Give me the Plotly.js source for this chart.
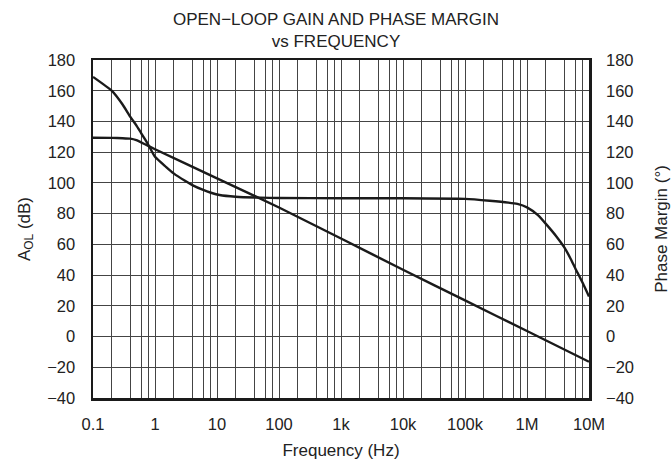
<!DOCTYPE html>
<html>
<head>
<meta charset="utf-8">
<script src="https://cdn.plot.ly/plotly-3.0.1.min.js"></script>
<style>html,body{margin:0;padding:0;background:#fff;}#chart{width:672px;height:467px;}</style>
</head>
<body>
<div id="chart"></div>
<script>
// Open-loop gain (dB) vs frequency (Hz)
const gainFreq = [0.1, 0.2, 0.3, 0.4, 0.5, 0.7, 1, 10, 100, 1e3, 1e4, 1e5, 1e6, 1e7];
const gainDb   = [129.4, 129.3, 129.1, 128.8, 127.8, 125, 121.9, 103, 84, 63.8, 43.5, 23.5, 3.6, -16.4];

// Phase margin (deg) vs frequency (Hz)
const phaseFreq = [0.1, 0.2, 0.3, 0.4, 0.5, 0.6, 0.7, 0.8, 1, 1.5, 2, 3, 4, 6, 8, 11, 20, 50, 100, 1e3, 1e4, 1e5, 2.5e5, 5e5, 7e5, 1e6, 1.5e6, 2e6, 3e6, 4e6, 5e6, 6e6, 8e6, 1e7];
const phaseDeg  = [169, 160, 151, 143, 137.5, 132.3, 128, 124, 117, 110.5, 106.2, 101.5, 98.6, 95.4, 93.6, 92.1, 91, 90.4, 90.2, 90, 90, 89.6, 88.4, 87.2, 86.3, 84.1, 79, 73.5, 65, 58, 51, 44.5, 34.5, 26];

// Axis ticks
const xTickVals  = [0.1, 1, 10, 100, 1e3, 1e4, 1e5, 1e6, 1e7];
const xTickText  = ['0.1', '1', '10', '100', '1k', '10k', '100k', '1M', '10M'];
const minorMults = [2, 4, 6, 8];

const minorVals = [];
for (let i = 0; i < xTickVals.length - 1; i++) {
  for (const m of minorMults) minorVals.push(xTickVals[i] * m);
}

const fam = '"Liberation Sans", Arial, sans-serif';
const tickFont = {family: fam, size: 16.5, color: '#222'};
const titleFont = {family: fam, size: 17, color: '#222'};
const gridColor = '#444';

const traces = [
  {x: gainFreq, y: gainDb, type: 'scatter', mode: 'lines', line: {color: '#1a1a1a', width: 2.4, shape: 'spline', smoothing: 0.3}, xaxis: 'x', yaxis: 'y', hoverinfo: 'skip'},
  {x: phaseFreq, y: phaseDeg, type: 'scatter', mode: 'lines', line: {color: '#1a1a1a', width: 2.4, shape: 'spline', smoothing: 0.5}, xaxis: 'x', yaxis: 'y2', hoverinfo: 'skip'}
];

const layout = {
  width: 672, height: 467,
  margin: {l: 93, r: 83, t: 60, b: 69},
  paper_bgcolor: '#fff', plot_bgcolor: '#fff',
  showlegend: false,
  font: tickFont,
  title: {
    text: 'OPEN\u2212LOOP GAIN AND PHASE MARGIN<br>vs FREQUENCY',
    font: titleFont,
    x: 0.5, xref: 'container', xanchor: 'center',
    y: 1 - 25/467, yref: 'container', yanchor: 'top'
  },
  xaxis: {
    type: 'log',
    range: [-1, 7],
    tickmode: 'array', tickvals: xTickVals, ticktext: xTickText,
    ticks: '', showgrid: true, gridcolor: gridColor, gridwidth: 1,
    minor: {tickmode: 'array', tickvals: minorVals, showgrid: true, gridcolor: gridColor, gridwidth: 1, ticks: ''},
    showline: true, linecolor: '#1a1a1a', linewidth: 2.5, mirror: true,
    zeroline: false,
    tickfont: tickFont, ticklabelstandoff: 10,
    title: {text: 'Frequency (Hz)', font: titleFont, standoff: 12}
  },
  yaxis: {
    range: [-40, 180], dtick: 20, tick0: 0,
    ticks: '', showgrid: true, gridcolor: gridColor, gridwidth: 1,
    showline: true, linecolor: '#1a1a1a', linewidth: 2.5, mirror: true,
    zeroline: false,
    tickfont: tickFont, ticklabelstandoff: 12,
    title: {text: 'A<sub>OL</sub> (dB)', font: titleFont, standoff: 13}
  },
  yaxis2: {
    overlaying: 'y', side: 'right',
    range: [-40, 180], dtick: 20, tick0: 0,
    ticks: '', showgrid: false, zeroline: false, showline: false,
    tickfont: tickFont, ticklabelstandoff: 16,
    title: {text: 'Phase Margin (\u00B0)', font: titleFont, standoff: 22}
  }
};

Plotly.newPlot('chart', traces, layout, {displayModeBar: false, staticPlot: true});
</script>
</body>
</html>
